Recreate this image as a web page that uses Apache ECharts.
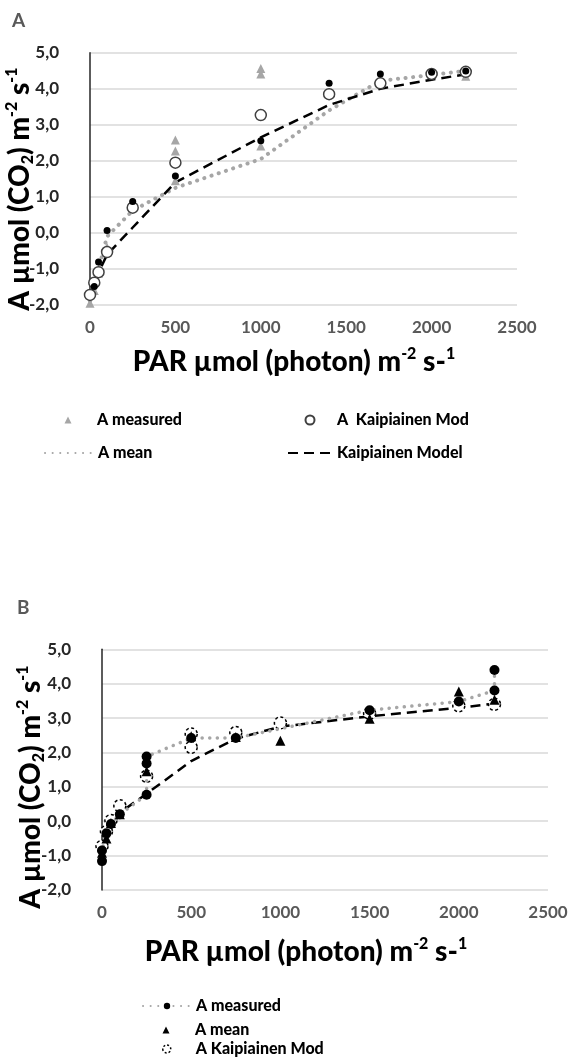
<!DOCTYPE html>
<html><head><meta charset="utf-8">
<script src="https://cdn.jsdelivr.net/npm/echarts@6/dist/echarts.min.js"></script>
<style>html,body{margin:0;padding:0;background:#fff}#c{width:572px;height:1061px}</style>
</head><body><div id="c"></div>
<script>
// ---------- Panel A data ----------
const xTicks = [0, 500, 1000, 1500, 2000, 2500];
const yTicks = [-2, -1, 0, 1, 2, 3, 4, 5];
const parA = [0, 25, 50, 100, 250, 500, 1000, 1400, 1700, 2000, 2200];
const aMeanA = [-1.9, -1.5, -1.0, -0.1, 0.62, 1.25, 2.05, 3.4, 4.22, 4.38, 4.5];
const modelA = [-1.75, -1.42, -1.1, -0.6, 0.15, 1.4, 2.65, 3.55, 4.0, 4.25, 4.4];
const kaipModA = [-1.72, -1.38, -1.09, -0.53, 0.70, 1.95, 3.27, 3.85, 4.15, 4.41, 4.47];
const measuredA = [[0,-1.95],[25,-1.6],[50,-1.12],[100,-0.4],[500,2.58],[500,2.27],[500,1.45],[1000,4.56],[1000,4.41],[1000,2.41],[2200,4.35]];
const obsDotsA = [[25,-1.49],[50,-0.81],[100,0.07],[250,0.87],[500,1.58],[1000,2.56],[1400,4.15],[1700,4.41],[2000,4.46],[2200,4.49]];

// ---------- Panel B data ----------
const parB = [0, 25, 50, 100, 250, 500, 750, 1000, 1500, 2000, 2200];
const modelB = [-0.8, -0.4, -0.1, 0.25, 0.8, 1.75, 2.4, 2.75, 3.05, 3.3, 3.42];
const measuredB = [[0,-1.16],[0,-0.85],[25,-0.35],[50,-0.08],[100,0.2],[250,0.77],[250,1.68],[250,1.88],[500,2.42],[750,2.42],[1500,3.23],[2000,3.48],[2200,3.8],[2200,4.4]];
const meanB = [[0,-0.92],[25,-0.5],[50,-0.05],[100,0.2],[250,1.45],[500,2.47],[750,2.45],[1000,2.34],[1500,2.98],[2000,3.77],[2200,3.53]];
const kaipModB = [[0,-0.73],[25,-0.3],[50,0.02],[100,0.45],[250,1.31],[500,2.54],[500,2.15],[750,2.58],[1000,2.86],[1500,3.14],[2000,3.36],[2200,3.4]];

const FONT = 'Lato';
const zip = (xs, ys) => xs.map((x, i) => [x, ys[i]]);
const yFmt = v => v.toFixed(1).replace('.', ',');
// legend icons centred in their boxes (move-to anchors fix the bounding box)
const TRI = 'path://M0,7L0.01,7L0,7Z M48,7L47.99,7L48,7Z M20.5,7L24,0L27.5,7Z';
const CIRC_A = 'path://M0,0 M44,9 M17.5,4.5 A4.5,4.5 0 1,0 26.5,4.5 A4.5,4.5 0 1,0 17.5,4.5 Z';
const CIRC_B = 'path://M0,0 M48,8 M20,4 A4,4 0 1,0 28,4 A4,4 0 1,0 20,4 Z';

function xAxis(g) {
  return { gridIndex: g, type: 'value', min: xTicks[0], max: xTicks[xTicks.length-1], interval: 500,
    axisLine: { show: false, onZero: false }, axisTick: { show: false }, splitLine: { show: false },
    axisLabel: { formatter: v => String(v), color: '#595959', fontFamily: FONT, fontWeight: 'bold', fontSize: 17, margin: 14 } };
}
function yAxis(g) {
  return { gridIndex: g, type: 'value', min: yTicks[0], max: yTicks[yTicks.length-1], interval: 1,
    axisLine: { show: true, onZero: false, lineStyle: { color: '#262626', width: 1.5 } },
    axisTick: { show: false },
    splitLine: { show: true, lineStyle: { color: '#d9d9d9', width: 1.5 } },
    axisLabel: { formatter: yFmt, color: '#262626', fontFamily: FONT, fontWeight: 'bold', fontSize: 17, margin: 31 } };
}
const richTitle = {
  n: { fontFamily: FONT, fontWeight: 900, fontSize: 28, lineHeight: 32, color: '#000' },
  sub: { fontFamily: FONT, fontWeight: 900, fontSize: 16, lineHeight: 14, color: '#000', verticalAlign: 'bottom' },
  sup: { fontFamily: FONT, fontWeight: 900, fontSize: 16, lineHeight: 16, color: '#000', verticalAlign: 'top' }
};
const yTitle = '{n|A µmol (CO}{sub|2}{n|) m}{sup|-2}{n| s}{sup|-1}';
const xTitle = '{n|PAR µmol (photon) m}{sup|-2}{n| s-}{sup|1}';
function gText(x, y, text, rot) {
  return { type: 'text', x: x, y: y, rotation: rot || 0,
    style: { text: text, rich: richTitle, align: 'center', verticalAlign: 'middle' } };
}
const dotted = (c, w) => ({ color: c, width: w, type: [0.1, 7.5], cap: 'round' });
const dashed = (w) => ({ color: '#000', width: w, type: [10, 6] });
const legTxt = { fontFamily: FONT, fontWeight: 900, fontSize: 16, color: '#000' };
function leg(left, top, w, h, item) {
  return { left: left, top: top, padding: 0, itemWidth: w, itemHeight: h, data: [item], textStyle: legTxt };
}

const option = {
  animation: false,
  backgroundColor: '#fff',
  grid: [
    { left: 90, top: 52.7, width: 427, height: 252.3 },
    { left: 102, top: 649.3, width: 446, height: 240.7 }
  ],
  xAxis: [xAxis(0), xAxis(1)],
  yAxis: [yAxis(0), yAxis(1)],
  legend: [
    leg(44, 412, 48, 7, { name: 'A measured', icon: TRI }),
    leg(44, 445, 48, 8, { name: 'A mean', itemStyle: { opacity: 0 } }),
    leg(287, 412, 44, 9, { name: 'A  Kaipiainen Mod', icon: CIRC_A }),
    leg(287, 445, 44, 8, { name: 'Kaipiainen Model', itemStyle: { opacity: 0 } }),
    leg(142, 998, 48, 8, { name: 'A measured ' }),
    leg(142, 1022, 48, 7, { name: 'A mean ', icon: TRI }),
    leg(142, 1041, 48, 8, { name: 'A Kaipiainen Mod', icon: CIRC_B, itemStyle: { borderType: [2, 2], borderWidth: 1.5 } })
  ],
  graphic: [
    { type: 'text', left: 12, top: 11, style: { text: 'A', fontFamily: FONT, fontWeight: 'bold', fontSize: 19, fill: '#595959' } },
    { type: 'text', left: 17, top: 598, style: { text: 'B', fontFamily: FONT, fontWeight: 'bold', fontSize: 19, fill: '#595959' } },
    gText(20, 189, yTitle, Math.PI / 2),
    gText(31, 787, yTitle, Math.PI / 2),
    gText(294, 362, xTitle),
    gText(306, 952, xTitle)
  ],
  series: [
    // Panel A
    { name: 'A mean', type: 'line', xAxisIndex: 0, yAxisIndex: 0, data: zip(parA, aMeanA),
      symbol: 'none', lineStyle: dotted('#a6a6a6', 4), itemStyle: { color: '#a6a6a6' }, z: 1 },
    { name: 'Kaipiainen Model', type: 'line', xAxisIndex: 0, yAxisIndex: 0, data: zip(parA, modelA),
      symbol: 'none', lineStyle: dashed(2.5), itemStyle: { color: '#000' }, z: 2 },
    { name: 'A measured', type: 'scatter', xAxisIndex: 0, yAxisIndex: 0, data: measuredA,
      symbol: 'triangle', symbolSize: 9, itemStyle: { color: '#a6a6a6', opacity: 1 }, z: 3 },
    { name: 'A  Kaipiainen Mod', type: 'scatter', xAxisIndex: 0, yAxisIndex: 0, data: zip(parA, kaipModA),
      symbol: 'circle', symbolSize: 11, itemStyle: { color: '#fff', borderColor: '#404040', borderWidth: 1.5, opacity: 1 }, z: 4 },
    { name: 'A obs', type: 'scatter', xAxisIndex: 0, yAxisIndex: 0, data: obsDotsA,
      symbol: 'circle', symbolSize: 7, itemStyle: { color: '#000', opacity: 1 }, z: 5 },
    // Panel B
    { name: 'Kaipiainen Model B', type: 'line', xAxisIndex: 1, yAxisIndex: 1, data: zip(parB, modelB),
      symbol: 'none', lineStyle: dashed(2.5), itemStyle: { color: '#000' }, z: 1 },
    { name: 'A Kaipiainen Mod', type: 'scatter', xAxisIndex: 1, yAxisIndex: 1, data: kaipModB,
      symbol: 'circle', symbolSize: 12, itemStyle: { color: '#fff', borderColor: '#000', borderWidth: 1.5, borderType: [3, 2.5], opacity: 1 }, z: 2 },
    { name: 'A measured ', type: 'line', xAxisIndex: 1, yAxisIndex: 1, data: measuredB,
      symbol: 'circle', symbolSize: 10, showAllSymbol: true, lineStyle: dotted('#a6a6a6', 3.5),
      itemStyle: { color: '#000', borderWidth: 0 }, z: 3 },
    { name: 'A mean ', type: 'scatter', xAxisIndex: 1, yAxisIndex: 1, data: meanB,
      symbol: 'triangle', symbolSize: 10, itemStyle: { color: '#000', opacity: 1 }, z: 4 }
  ]
};
const chart = echarts.init(document.getElementById('c'), null, { renderer: 'canvas' });
chart.setOption(option);
</script></body></html>
